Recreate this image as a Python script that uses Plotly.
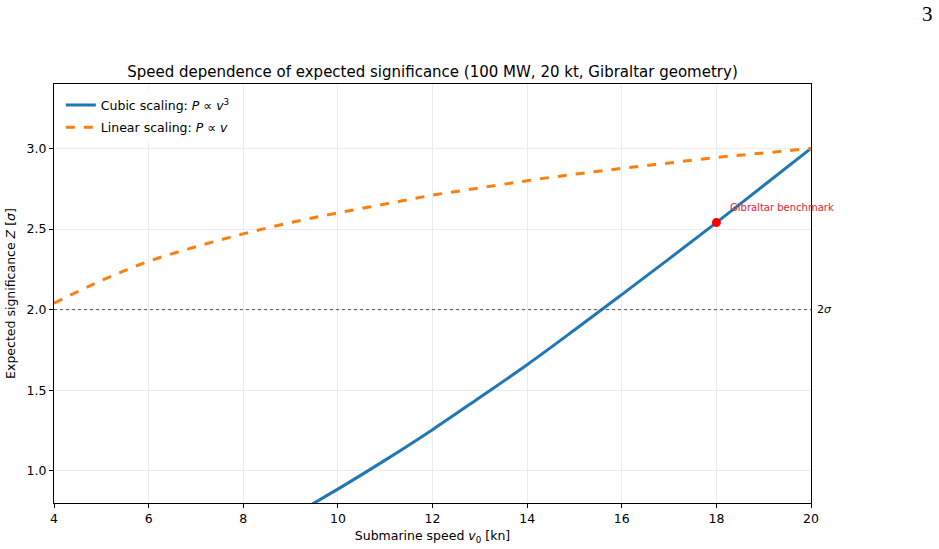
import plotly.graph_objects as go

# Data
speed = [4, 5, 6, 7, 8, 9, 10, 11, 12, 13, 14, 15, 16, 17, 18, 19, 20]
z_linear = [2.04, 2.18, 2.30, 2.39, 2.47, 2.54, 2.60, 2.655, 2.71, 2.755, 2.80, 2.84, 2.876, 2.91, 2.944, 2.972, 3.0]
speed_cubic = [9.0, 9.5, 10, 11, 12, 13, 14, 15, 16, 17, 18, 19, 20]
z_cubic = [0.71, 0.80, 0.886, 1.066, 1.255, 1.455, 1.658, 1.873, 2.093, 2.315, 2.54, 2.77, 3.0]
bench_v = [18]
bench_z = [2.54]
threshold = 2.0
x_ticks = [4, 6, 8, 10, 12, 14, 16, 18, 20]
y_ticks = [1.0, 1.5, 2.0, 2.5, 3.0]

FONT = "DejaVu Sans"

fig = go.Figure()
fig.add_trace(go.Scatter(
    x=speed_cubic, y=z_cubic, mode="lines", line=dict(color="#1f77b4", width=3, shape="spline"),
    name="Cubic scaling: <i>P</i> ∝ <i>v</i><sup>3</sup>", legendgroup="a"))
fig.add_trace(go.Scatter(
    x=speed, y=z_linear, mode="lines", line=dict(color="#ff7f0e", width=3, dash="dash", shape="spline"),
    name="Linear scaling: <i>P</i> ∝ <i>v</i>", legendgroup="b"))
fig.add_trace(go.Scatter(
    x=bench_v, y=bench_z, mode="markers", marker=dict(color="red", size=9),
    showlegend=False))

fig.add_shape(type="line", xref="paper", x0=0, x1=1, yref="y", y0=threshold, y1=threshold,
              line=dict(color="#555555", width=1, dash="dot"))
fig.add_annotation(xref="paper", x=1.0, yref="y", y=threshold, text="2<i>σ</i>", showarrow=False,
                   xanchor="left", xshift=4, font=dict(family=FONT, size=11, color="black"))
fig.add_annotation(x=bench_v[0], y=bench_z[0], text="Gibraltar benchmark", showarrow=False,
                   xanchor="left", yanchor="middle", xshift=12, yshift=15,
                   font=dict(family=FONT, size=10, color="#e3242b"))
fig.add_annotation(xref="paper", yref="paper", x=(927 - 54) / 757, y=(503 - 14) / 419, text="3",
                   showarrow=False, xanchor="center", yanchor="middle",
                   font=dict(family="Liberation Serif", size=21, color="black"))

axis_common = dict(showline=True, linecolor="black", linewidth=1, mirror=True,
                   ticks="outside", ticklen=4, tickcolor="black", automargin=False,
                   showgrid=True, gridcolor="#ebebeb", gridwidth=1, zeroline=False,
                   tickfont=dict(family=FONT, size=12.5, color="black"))

fig.update_layout(
    width=939, height=549,
    margin=dict(l=54, r=128, t=84, b=46),
    paper_bgcolor="white", plot_bgcolor="white",
    font=dict(family=FONT, size=12.5, color="black"),
    title=dict(text="Speed dependence of expected significance (100 MW, 20 kt, Gibraltar geometry)",
               x=(54 + 811) / 2 / 939, xanchor="center", y=1 - 72 / 549, yanchor="middle",
               font=dict(family=FONT, size=15, color="black")),
    xaxis=dict(range=[4, 20], tickvals=x_ticks,
               title=dict(text="Submarine speed <i>v</i><sub>0</sub> [kn]", standoff=6,
                          font=dict(family=FONT, size=12.5)), **axis_common),
    yaxis=dict(range=[0.8, 3.4], tickvals=y_ticks, tickformat=".1f",
               title=dict(text="Expected significance <i>Z</i> [<i>σ</i>]", standoff=8,
                          font=dict(family=FONT, size=12.5)), **axis_common),
    legend=dict(x=0.009, y=0.985, xanchor="left", yanchor="top", bgcolor="rgba(255,255,255,0.8)",
                borderwidth=0, tracegroupgap=3, font=dict(family=FONT, size=12.5)),
)

fig.write_html("out.html")
